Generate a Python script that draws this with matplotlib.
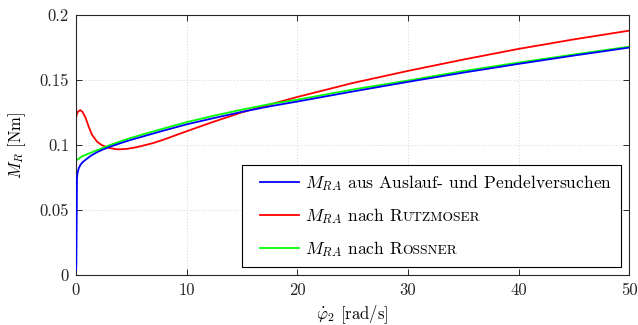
import matplotlib
matplotlib.use("Agg")
import matplotlib.pyplot as plt
from matplotlib.legend_handler import HandlerLine2D

plt.rcParams["font.family"] = ["cmr10", "DejaVu Serif"]
plt.rcParams["mathtext.fontset"] = "cm"
plt.rcParams["axes.formatter.use_mathtext"] = True

# Friction torque measurements and models (x: angular velocity in rad/s)
x_blue = [0.0, 0.03, 0.06, 0.09, 0.15, 0.25, 0.4, 0.6, 0.85, 1.15, 1.45, 1.9, 2.35,
          3.1, 4.0, 5.0, 6.0, 8.0, 10.0, 12.5, 15.0, 17.5, 20.0, 25.0, 30.0,
          35.0, 40.0, 45.0, 50.0]
m_blue = [0.004, 0.008, 0.040, 0.0745, 0.0790, 0.0820, 0.0847, 0.0868, 0.0885,
          0.0905, 0.0923, 0.0944, 0.0962, 0.0987, 0.1013, 0.1040, 0.1064, 0.1112,
          0.1158, 0.1207, 0.1254, 0.1296, 0.1333, 0.1410, 0.1484, 0.1555, 0.1622,
          0.1686, 0.1747]

x_red = [0.0, 0.1, 0.2, 0.4, 0.6, 0.85, 1.15, 1.45, 1.9, 2.35, 2.95, 3.5, 3.9,
         4.6, 5.5, 7.0, 8.0, 10.0, 12.5, 15.0, 17.5, 20.0, 25.0, 30.0, 35.0,
         40.0, 45.0, 50.0]
m_red = [0.1210, 0.1240, 0.1258, 0.1267, 0.1252, 0.1212, 0.1140, 0.1078, 0.1025,
         0.0998, 0.0978, 0.0969, 0.0966, 0.0970, 0.0983, 0.1015, 0.1043, 0.1105,
         0.1180, 0.1250, 0.1310, 0.1368, 0.1475, 0.1568, 0.1655, 0.1737, 0.1810,
         0.1877]

x_green = [0.0, 0.5, 1.0, 1.5, 2.0, 2.5, 3.0, 4.0, 5.0, 6.0, 8.0, 10.0, 12.5, 15.0,
           17.5, 20.0, 25.0, 30.0, 35.0, 40.0, 45.0, 50.0]
m_green = [0.0880, 0.0910, 0.0928, 0.0946, 0.0963, 0.0980, 0.0997, 0.1027, 0.1055,
           0.1080, 0.1128, 0.1175, 0.1225, 0.1271, 0.1313, 0.1347, 0.1425, 0.1494,
           0.1567, 0.1632, 0.1694, 0.1754]

labels = [r"$M_{RA}$ aus Auslauf- und Pendelversuchen",
          r"$M_{RA}$ nach R",
          r"$M_{RA}$ nach R"]
smallcaps = [None, "UTZMOSER", "OSSNER"]

x_ticks = [0, 10, 20, 30, 40, 50]
y_ticks = [0, 0.05, 0.1, 0.15, 0.2]
y_ticklabels = ["0", "0.05", "0.1", "0.15", "0.2"]

fig = plt.figure(figsize=(6.38, 3.25), dpi=100)
ax = fig.add_axes([0.1191, 0.153, 0.867, 0.802])

ax.plot(x_blue, m_blue, color=(0, 0, 1), lw=1.3, label=labels[0], zorder=3)
ax.plot(x_red, m_red, color=(1, 0, 0), lw=1.3, label=labels[1], zorder=2)
ax.plot(x_green, m_green, color=(0, 1, 0), lw=1.3, label=labels[2], zorder=2.5)

ax.set_xlim(0, 50)
ax.set_ylim(0, 0.2)
ax.set_xticks(x_ticks)
ax.set_xticklabels([str(t) for t in x_ticks])
ax.set_yticks(y_ticks)
ax.set_yticklabels(y_ticklabels)
ax.tick_params(direction="in", length=4.5, width=0.7, top=True, right=True,
               labelsize=12, colors="#262626", pad=5)
for sp in ax.spines.values():
    sp.set_color("#262626")
    sp.set_linewidth(0.8)
ax.grid(True, linestyle=(0, (1, 2)), color="#d4d4d4", linewidth=0.7)

ax.set_xlabel(r"$\dot{\varphi}_2$ [rad/s]", fontsize=12, labelpad=4)
ax.set_ylabel(r"$M_R$ [Nm]", fontsize=12, labelpad=8)

leg_fs = 12.6
leg = ax.legend(loc="lower right", fontsize=leg_fs, frameon=True, fancybox=False,
                edgecolor="black", framealpha=1, handlelength=2.72,
                handletextpad=0.38, labelspacing=0.72, borderpad=0.5,
                borderaxespad=0.45,
                handler_map={matplotlib.lines.Line2D: HandlerLine2D(xpad=0.5)})
leg.get_frame().set_linewidth(0.8)
for line in leg.get_lines():
    line.set_linewidth(1.3)

# small-caps tails for the author names
fig.canvas.draw()
renderer = fig.canvas.get_renderer()
for txt, tail in zip(leg.get_texts(), smallcaps):
    if tail is None:
        continue
    bb = txt.get_window_extent(renderer)
    bx, by = txt.get_transform().transform(txt.get_position())
    fig.text((bb.x1 - 1.5) / fig.bbox.width, by / fig.bbox.height, tail,
             fontsize=9.7, va="baseline", ha="left", zorder=10)

fig.savefig("out.png", dpi=100)
